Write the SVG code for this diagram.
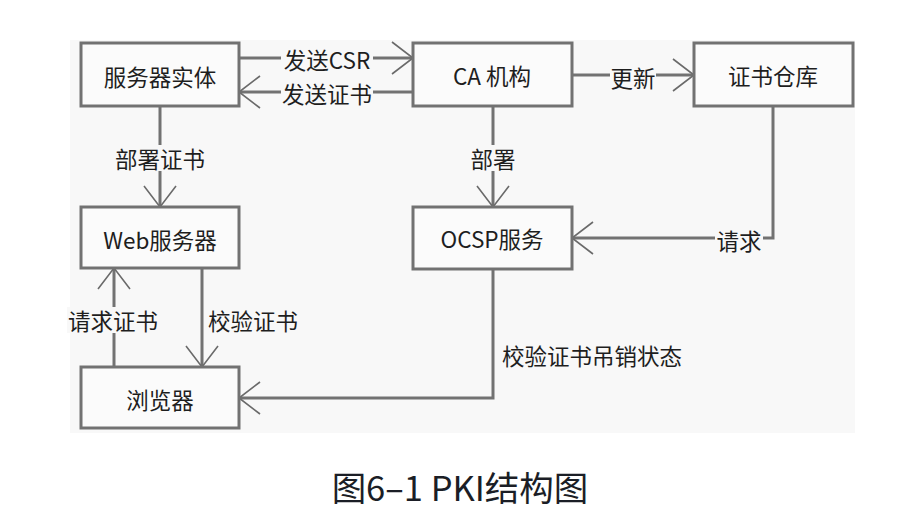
<svg xmlns="http://www.w3.org/2000/svg" width="924" height="532" viewBox="0 0 924 532">
<style>
.bg{fill:#f8f8f8}
.box{fill:#fbfbfb;stroke:#727272;stroke-width:3}
.t{font-family:"Noto Sans CJK SC","Noto Sans",sans-serif;font-size:22.5px;fill:#1e1e1e;text-anchor:middle;dominant-baseline:central}
.tl{text-anchor:start}
.ln{fill:none;stroke:#727272;stroke-width:3}
.lb{fill:#f8f8f8}
.cap{font-family:"Noto Sans CJK SC","Noto Sans",sans-serif;font-size:34.5px;fill:#1b1e26;text-anchor:middle}
</style>
<defs>
<marker id="ah" markerUnits="userSpaceOnUse" markerWidth="30" markerHeight="40" refX="24" refY="17" orient="auto" overflow="visible">
<path d="M3,1 L24,17 L3,33" fill="none" stroke="#6a6a6a" stroke-width="1.6"/>
</marker>
</defs>
<rect class="bg" x="70" y="40" width="785" height="393"/>
<g id="connectors">
<line class="ln" x1="239" y1="58" x2="413" y2="58" marker-end="url(#ah)"/>
<line class="ln" x1="413" y1="92" x2="239" y2="92" marker-end="url(#ah)"/>
<line class="ln" x1="160" y1="106" x2="160" y2="207" marker-end="url(#ah)"/>
<line class="ln" x1="493" y1="106" x2="493" y2="207" marker-end="url(#ah)"/>
<line class="ln" x1="572" y1="75" x2="694" y2="75" marker-end="url(#ah)"/>
<polyline class="ln" points="773,106 773,238 572,238" marker-end="url(#ah)"/>
<line class="ln" x1="114" y1="367" x2="114" y2="268" marker-end="url(#ah)"/>
<line class="ln" x1="202" y1="268" x2="202" y2="367" marker-end="url(#ah)"/>
<polyline class="ln" points="493,269 493,398 239,398" marker-end="url(#ah)"/>
<rect class="lb" x="281" y="46" width="92" height="26"/>
<text class="t" x="327" y="59">发送CSR</text>
<rect class="lb" x="281" y="79" width="92" height="26"/>
<text class="t" x="327" y="93">发送证书</text>
<rect class="lb" x="113" y="145" width="94" height="26"/>
<text class="t" x="160" y="158">部署证书</text>
<rect class="lb" x="470" y="145" width="46" height="26"/>
<text class="t" x="493" y="158">部署</text>
<rect class="lb" x="610" y="63" width="46" height="26"/>
<text class="t" x="633" y="77">更新</text>
<rect class="lb" x="715" y="226" width="48" height="26"/>
<text class="t" x="739" y="240">请求</text>
<rect class="lb" x="67" y="307" width="92" height="26"/>
<text class="t" x="113" y="320">请求证书</text>
<text class="t tl" x="208" y="320">校验证书</text>
<text class="t tl" x="502" y="355">校验证书吊销状态</text>
</g>
<g id="server-entity">
<rect class="box" x="81" y="43" width="158" height="63"/>
<text class="t" x="160" y="76">服务器实体</text>
</g>
<g id="ca">
<rect class="box" x="413" y="43" width="159" height="63"/>
<text class="t" x="492" y="75">CA 机构</text>
</g>
<g id="cert-repo">
<rect class="box" x="694" y="43" width="159" height="63"/>
<text class="t" x="773" y="75">证书仓库</text>
</g>
<g id="web-server">
<rect class="box" x="81" y="207" width="158" height="61"/>
<text class="t" x="160" y="239">Web服务器</text>
</g>
<g id="ocsp">
<rect class="box" x="413" y="207" width="159" height="62"/>
<text class="t" x="492" y="238">OCSP服务</text>
</g>
<g id="browser">
<rect class="box" x="81" y="367" width="158" height="61"/>
<text class="t" x="160" y="399">浏览器</text>
</g>
<text class="cap" x="460" y="501">图6–1 PKI结构图</text>
</svg>
